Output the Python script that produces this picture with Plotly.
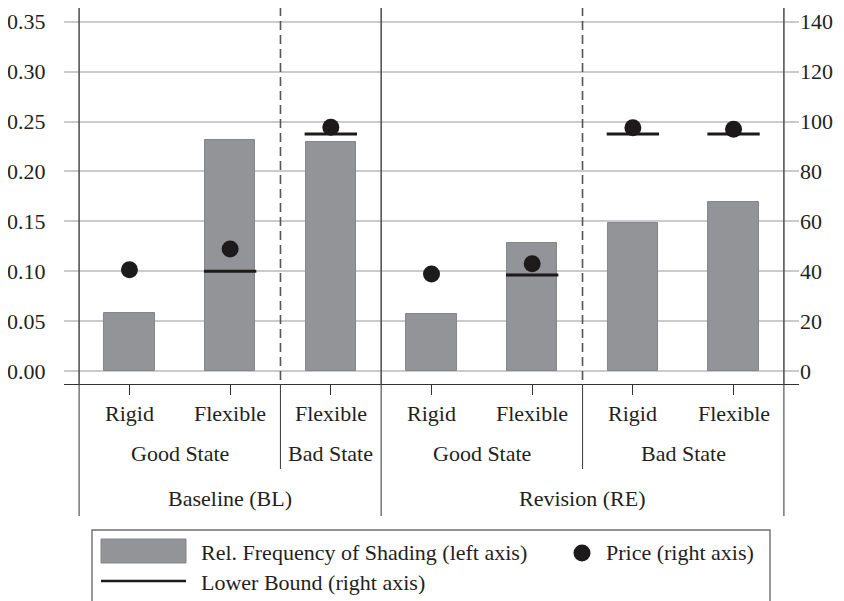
import plotly.graph_objects as go

# ---- data ----
treatments = ["Baseline (BL)"] * 3 + ["Revision (RE)"] * 4
states = ["Good State", "Good State", "Bad State", "Good State", "Good State", "Bad State", "Bad State"]
contracts = ["Rigid", "Flexible", "Flexible", "Rigid", "Flexible", "Rigid", "Flexible"]
shading_freq = [0.0585, 0.231, 0.2297, 0.0572, 0.128, 0.148, 0.1698]
price = [40.6, 48.9, 97.7, 38.9, 43.0, 97.5, 96.9]
lower_bound = [None, 40.0, 95.0, None, 38.5, 95.0, 95.0]
left_ticks = [0.00, 0.05, 0.10, 0.15, 0.20, 0.25, 0.30, 0.35]
right_ticks = [0, 20, 40, 60, 80, 100, 120, 140]

FONT = "Liberation Serif"
TXT = "#231f20"
BAR = "#939498"
DOT = "#1c1a1b"
SEP = "#555555"

n = len(contracts)
idx = list(range(n))
BAR_W = 0.5

# The page body has an 8px margin, so the figure is drawn 8px in from the
# window's top-left corner.  Layout is planned in window pixels.
OFF = 8
WIN_W, WIN_H = 844, 601
W, H = WIN_W - OFF, WIN_H - OFF
PLOT_X0, PLOT_X1 = 64, 799      # window pixels
PLOT_Y0, PLOT_Y1 = 8, 384       # window pixels
L = PLOT_X0 - OFF
R = W - (PLOT_X1 - OFF)
T = PLOT_Y0 - OFF
B = H - (PLOT_Y1 - OFF)
PW = PLOT_X1 - PLOT_X0
PH = PLOT_Y1 - PLOT_Y0


def px(x):
    return (x - PLOT_X0) / PW


def py(y):
    return (PLOT_Y1 - y) / PH


fig = go.Figure()

fig.add_trace(go.Bar(
    x=idx, y=shading_freq, width=BAR_W, yaxis="y",
    marker=dict(color=BAR, line=dict(color="#858689", width=1)),
    name="Rel. Frequency of Shading (left axis)", showlegend=False,
))

lb_x, lb_y = [], []
for i, v in zip(idx, lower_bound):
    if v is None:
        continue
    lb_x += [i - BAR_W / 2 - 0.01, i + BAR_W / 2 + 0.01, None]
    lb_y += [v, v, None]
fig.add_trace(go.Scatter(
    x=lb_x, y=lb_y, yaxis="y2", mode="lines",
    line=dict(color=DOT, width=3),
    name="Lower Bound (right axis)", showlegend=False,
))

fig.add_trace(go.Scatter(
    x=idx, y=price, yaxis="y2", mode="markers",
    marker=dict(color=DOT, size=17),
    name="Price (right axis)", showlegend=False,
))

shapes = []
annotations = []

# category label rows
row_y = [py(413), py(453), py(498)]
for i, c in zip(idx, contracts):
    annotations.append(dict(x=i, y=row_y[0], xref="x", yref="paper", text=c,
                            showarrow=False, yanchor="middle"))


def groups(labels, parent=None):
    out = []
    start = 0
    for i in range(1, n + 1):
        if i == n or labels[i] != labels[start] or (parent and parent[i] != parent[start]):
            out.append((labels[start], start, i - 1))
            start = i
    return out


state_groups = groups(states, treatments)
treat_groups = groups(treatments)
for lab, a, b in state_groups:
    annotations.append(dict(x=(a + b) / 2, y=row_y[1], xref="x", yref="paper", text=lab,
                            showarrow=False, yanchor="middle"))
for lab, a, b in treat_groups:
    annotations.append(dict(x=(a + b) / 2, y=row_y[2], xref="x", yref="paper", text=lab,
                            showarrow=False, yanchor="middle"))

# separator lines
treat_bounds = sorted(set([-0.5] + [b + 0.5 for _, _, b in treat_groups]))
state_bounds = sorted(set(b + 0.5 for _, _, b in state_groups) - set(treat_bounds))
full_bottom = py(516)
short_bottom = py(469)
for xb in treat_bounds:
    shapes.append(dict(type="line", xref="x", yref="paper", x0=xb, x1=xb, y0=py(7), y1=0,
                       line=dict(color=SEP, width=1.6)))
    shapes.append(dict(type="line", xref="x", yref="paper", x0=xb, x1=xb, y0=0, y1=full_bottom,
                       line=dict(color="#444444", width=1.1)))
for xb in state_bounds:
    shapes.append(dict(type="line", xref="x", yref="paper", x0=xb, x1=xb, y0=py(7), y1=0,
                       line=dict(color=SEP, width=1.6, dash="9px,5px")))
    shapes.append(dict(type="line", xref="x", yref="paper", x0=xb, x1=xb, y0=0, y1=short_bottom,
                       line=dict(color="#444444", width=1.1)))

# manual legend
shapes.append(dict(type="rect", xref="paper", yref="paper", x0=px(92), x1=px(770), y0=py(530), y1=py(640),
                   line=dict(color="#6e6e6e", width=1.4), fillcolor="rgba(0,0,0,0)"))
shapes.append(dict(type="rect", xref="paper", yref="paper", x0=px(101), x1=px(186), y0=py(539), y1=py(563),
                   line=dict(color="#858689", width=1), fillcolor=BAR))
shapes.append(dict(type="line", xref="paper", yref="paper", x0=px(101), x1=px(186), y0=py(581), y1=py(581),
                   line=dict(color=DOT, width=2.5)))
shapes.append(dict(type="circle", xref="paper", yref="paper", x0=px(573.5), x1=px(590.5), y0=py(544.5), y1=py(561.5),
                   line=dict(color=DOT, width=0), fillcolor=DOT))
annotations.append(dict(x=px(199), y=py(552), xref="paper", yref="paper", xanchor="left", yanchor="middle",
                        text="Rel. Frequency of Shading (left axis)", showarrow=False))
annotations.append(dict(x=px(604), y=py(552), xref="paper", yref="paper", xanchor="left", yanchor="middle",
                        text="Price (right axis)", showarrow=False))
annotations.append(dict(x=px(199), y=py(582), xref="paper", yref="paper", xanchor="left", yanchor="middle",
                        text="Lower Bound (right axis)", showarrow=False))

# value <-> pixel mapping: 0.00 at y=371, 0.35 at y=21.7 (window pixels)
per_px = 0.35 / (371 - 21.7)
y_lo = -(PLOT_Y1 - 371) * per_px
y_hi = 0.35 + (21.7 - PLOT_Y0) * per_px
RATIO = 400  # right axis = left axis * 400

fig.update_layout(
    width=W, height=H,
    margin=dict(l=L, r=R, t=T, b=B, pad=0, autoexpand=False),
    paper_bgcolor="white", plot_bgcolor="white",
    font=dict(family=FONT, size=22, color=TXT),
    showlegend=False,
    bargap=0,
    xaxis=dict(
        range=[-0.65, n - 1 + 0.65], tickvals=idx, ticktext=[""] * n,
        showticklabels=False, ticks="outside", ticklen=10, tickwidth=1.2, tickcolor="#333333",
        showline=True, linecolor="#333333", linewidth=1.4,
        showgrid=False, zeroline=False, fixedrange=True,
    ),
    yaxis=dict(
        range=[y_lo, y_hi], tickvals=left_ticks, tickformat=".2f",
        showgrid=True, gridcolor="#cbcbcb", gridwidth=2.2,
        zeroline=False, showline=False,
        ticks="outside", ticklen=13, tickcolor="rgba(0,0,0,0)",
    ),
    yaxis2=dict(
        range=[y_lo * RATIO, y_hi * RATIO], tickvals=right_ticks,
        overlaying="y", side="right", showgrid=False, zeroline=False, showline=False,
        ticks="", ticklen=0,
    ),
    shapes=shapes,
    annotations=annotations,
)

fig.write_html("out.html")
